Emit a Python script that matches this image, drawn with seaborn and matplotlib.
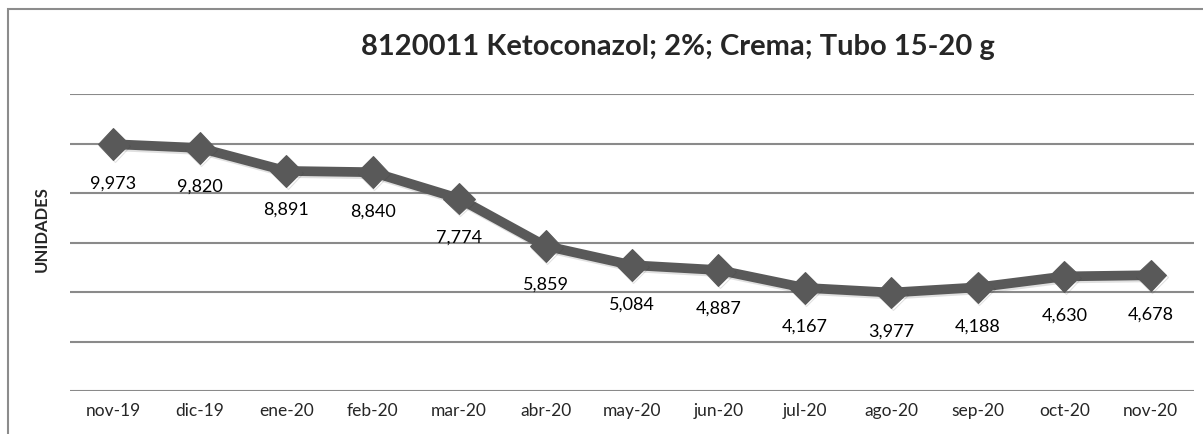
import matplotlib
matplotlib.use("Agg")
import matplotlib.pyplot as plt
import matplotlib.patheffects as pe
from matplotlib.patches import Rectangle
import seaborn as sns
import pandas as pd

# datos del grafico
meses = ["nov-19", "dic-19", "ene-20", "feb-20", "mar-20", "abr-20", "may-20",
         "jun-20", "jul-20", "ago-20", "sep-20", "oct-20", "nov-20"]
unidades = [9973, 9820, 8891, 8840, 7774, 5859, 5084, 4887, 4167, 3977, 4188, 4630, 4678]
titulo = "8120011 Ketoconazol; 2%; Crema; Tubo 15-20 g"
etiqueta_y = "UNIDADES"

df = pd.DataFrame({"mes": meses, "unidades": unidades})
df["pos"] = range(len(df))

sns.set_theme(style="white")
plt.rcParams["font.family"] = ["Lato", "DejaVu Sans"]

W, H = 1203, 435
fig = plt.figure(figsize=(W / 100, H / 100), dpi=100)
ax = fig.add_axes([70 / W, 1 - 392 / H, (1194 - 70) / W, (392 - 95) / H])

# marco exterior (cortado a la derecha y abajo)
fig.patches.append(Rectangle((8 / W, -0.1), 1.2, 1.1 - 10 / H, transform=fig.transFigure,
                             fill=False, edgecolor="#8c8c8c", linewidth=1.5))

ax.set_ylim(0, 12000)
ax.set_xlim(-0.5, len(meses) - 0.5)
for v in range(0, 12001, 2000):
    ax.axhline(v, color="#8a8a8a", linewidth=1.5, zorder=1)

sns.lineplot(data=df, x="pos", y="unidades", ax=ax, color="#595959", linewidth=7,
             marker="D", markersize=16, markeredgecolor="#595959", zorder=3,
             path_effects=[pe.SimpleLineShadow(offset=(1, -1.5), alpha=0.15, shadow_color="#333333"),
                           pe.Normal()])

for x, y in zip(df["pos"], df["unidades"]):
    ax.annotate(f"{y:,}", (x, y), xytext=(0, -38), textcoords="offset pixels",
                ha="center", va="center", fontsize=13, color="black")

ax.set_xticks(df["pos"])
ax.set_xticklabels(meses, fontsize=12.5)
ax.set_yticks([])
ax.tick_params(axis="x", length=0, pad=8)
ax.set_xlabel("")
ax.set_ylabel(etiqueta_y, fontsize=12, fontweight="bold")
ax.yaxis.set_label_coords(-0.018, 0.55)
for s in ax.spines.values():
    s.set_visible(False)

fig.text(678 / W, 1 - 47 / H, titulo, ha="center", va="center",
         fontsize=21, fontweight="bold")

fig.savefig("out.png", dpi=100)
